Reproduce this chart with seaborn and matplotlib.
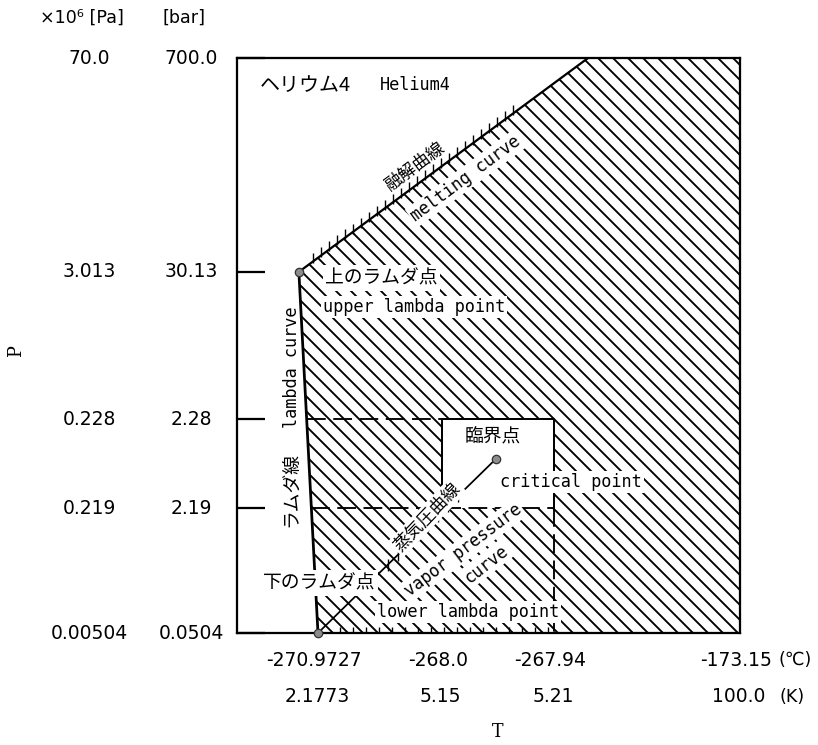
#!/usr/bin/env python3

""" Helium-4 phase diagram (schematic), redrawn with seaborn
"""

import numpy as np
import pandas as pd
import seaborn as sns
import matplotlib.pyplot as plt
from matplotlib.collections import LineCollection

#########################################################
### Values ###
#########################################################

# Temperature labels along the bottom
t_celsius = ["-270.9727", "-268.0", "-267.94", "-173.15"]
t_kelvin = ["2.1773", "5.15", "5.21", "100.0"]

# Pressure labels on the left
p_bar = ["0.0504", "2.19", "2.28", "30.13", "700.0"]
p_pa = ["0.00504", "0.219", "0.228", "3.013", "70.0"]

# The axes are not to scale: schematic position (0..1) of each label
t_pos = [0.161, 0.407, 0.630, 1.0]
p_pos = [0.0, 0.217, 0.372, 0.628, 1.0]

# Phase boundaries in the same schematic coordinates
lambda_T = [0.161, 0.123]
lambda_P = [0.0, 0.628]
melting_T = [0.123, 0.698]
melting_P = [0.628, 1.0]
vapor_T = [0.161, 0.515]
vapor_P = [0.0, 0.303]

point_names = ["lower lambda point", "upper lambda point", "critical point"]
point_T = [0.161, 0.123, 0.515]
point_P = [0.0, 0.628, 0.303]

lambda_curve = pd.DataFrame({"T": lambda_T, "P": lambda_P})
melting_curve = pd.DataFrame({"T": melting_T, "P": melting_P})
vapor_curve = pd.DataFrame({"T": vapor_T, "P": vapor_P})
points = pd.DataFrame({"name": point_names, "T": point_T, "P": point_P})

#########################################################
### Style ###
#########################################################

sns.set_style("white")
plt.rcParams["font.family"] = ["Noto Sans CJK JP", "DejaVu Sans"]
plt.rcParams["text.color"] = "black"
plt.rcParams["hatch.linewidth"] = 1.5
plt.rcParams["hatch.color"] = "black"

num_font = ["Liberation Sans Narrow", "DejaVu Sans"]
mono_font = ["DejaVu Sans Mono", "Noto Sans CJK JP"]
jp_font = ["Noto Sans CJK JP", "DejaVu Sans"]
white_box = dict(boxstyle="square,pad=0.12", fc="white", ec="none")

DPI = 90
fig = plt.figure(figsize=(818 / DPI, 745 / DPI), dpi=DPI, facecolor="white")
ax = fig.add_axes([237 / 818, 112 / 745, 503 / 818, 575 / 745])

# one pixel in axes units
px = 1 / 503
py = 1 / 575

#########################################################
### Regions ###
#########################################################

# Hatched area: right of the lambda curve, below the melting curve
region_T = lambda_T + [melting_T[-1], 1.0, 1.0]
region_P = lambda_P + [1.0, 1.0, 0.0]
ax.fill(region_T, region_P, facecolor="white", edgecolor="black",
        hatch="\\\\", linewidth=0, zorder=1)

# White window around the critical point
ax.fill_between(t_pos[1:3], p_pos[1], p_pos[2], color="white", linewidth=0, zorder=1.5)
ax.plot([t_pos[1], t_pos[1], t_pos[2], t_pos[2]],
        [p_pos[1], p_pos[2], p_pos[2], p_pos[1]],
        color="black", lw=1.6, zorder=2)
ax.plot([t_pos[2], t_pos[2]], [p_pos[1], p_pos[0]],
        color="black", lw=1.5, dashes=(10, 4), zorder=2)

# Dashed guides at 2.28 and 2.19 bar, starting on the lambda curve
for p_level, t_end in [(p_pos[2], t_pos[1]), (p_pos[1], t_pos[2])]:
    t_start = np.interp(p_level, lambda_P, lambda_T)
    ax.plot([t_start, t_end], [p_level, p_level],
            color="black", lw=1.5, dashes=(10, 4), zorder=2)

#########################################################
### Curves and points ###
#########################################################

sns.lineplot(data=lambda_curve, x="T", y="P", sort=False, estimator=None,
             color="black", lw=2.2, ax=ax, zorder=3)
sns.lineplot(data=melting_curve, x="T", y="P", sort=False, estimator=None,
             color="black", lw=1.8, ax=ax, zorder=3)
sns.lineplot(data=vapor_curve, x="T", y="P", sort=False, estimator=None,
             color="black", lw=1.4, ax=ax, zorder=3)

# Little ticks along the melting curve, the vapour curve and the bottom edge
mx = np.arange(0.152, 0.55, 8 * px)
my = np.interp(mx, melting_T, melting_P)
vx = np.arange(0.30, 0.445, 10 * px)
vy = np.interp(vx, vapor_T, vapor_P)
bx = np.arange(0.205, 0.64, 13 * px)
segs = [[(x, y - 2 * py), (x, y + 8 * py)] for x, y in zip(mx, my)]
segs += [[(x, y - 6 * py), (x, y + 6 * py)] for x, y in zip(vx, vy)]
segs += [[(x, 0), (x, 6 * py)] for x in bx]
ax.add_collection(LineCollection(segs, colors="black", linewidths=1.1, zorder=3))

sns.scatterplot(data=points, x="T", y="P", s=45, color="#8c8c8c",
                edgecolor="#333333", linewidth=1, zorder=6, ax=ax, clip_on=False)

#########################################################
### Axes frame and ticks ###
#########################################################

ax.set_xlim(0, 1)
ax.set_ylim(0, 1)
ax.set_xlabel("")
ax.set_ylabel("")
ax.set_xticks([])
ax.set_yticks(p_pos)
ax.tick_params(axis="y", direction="in", length=22, width=1.8,
               left=True, labelleft=False, color="black")
for side in ax.spines.values():
    side.set_color("black")
    side.set_linewidth(1.8)

# Pressure columns
for y, pa, bar in zip(p_pos, p_pa, p_bar):
    ax.text(-0.294, y, pa, ha="center", va="center", fontsize=15,
            family=num_font, transform=ax.transAxes)
    ax.text(-0.091, y, bar, ha="center", va="center", fontsize=15,
            family=num_font, transform=ax.transAxes)
ax.text(-0.308, 1.070, "×10⁶ [Pa]", ha="center", va="center", fontsize=14,
        family=num_font, transform=ax.transAxes)
ax.text(-0.105, 1.070, "[bar]", ha="center", va="center", fontsize=14,
        family=num_font, transform=ax.transAxes)
ax.text(-0.439, 0.492, "P", ha="center", va="center", fontsize=14, rotation=90,
        family=["DejaVu Serif"], transform=ax.transAxes)

# Temperature rows
for x, c, k in zip(t_pos, t_celsius, t_kelvin):
    ax.text(x - 0.008, -0.047, c, ha="center", va="center", fontsize=15,
            family=num_font, transform=ax.transAxes)
    ax.text(x - 0.002, -0.111, k, ha="center", va="center", fontsize=15,
            family=num_font, transform=ax.transAxes)
ax.text(1.109, -0.047, "(℃)", ha="center", va="center", fontsize=14,
        family=num_font, transform=ax.transAxes)
ax.text(1.104, -0.111, "(K)", ha="center", va="center", fontsize=14,
        family=num_font, transform=ax.transAxes)
ax.text(0.519, -0.172, "T", ha="center", va="center", fontsize=14,
        family=["DejaVu Serif"], transform=ax.transAxes)

#########################################################
### Labels inside the diagram ###
#########################################################

ax.text(0.046, 0.953, "ヘリウム4", ha="left", va="center", fontsize=16, family=jp_font)
ax.text(0.284, 0.953, "Helium4", ha="left", va="center", fontsize=13.5, family=mono_font)

melt_angle = np.degrees(np.arctan2(melting_P[1] - melting_P[0], melting_T[1] - melting_T[0]))
ax.text(0.354, 0.812, "融解曲線", ha="center", va="center", fontsize=14, family=jp_font,
        rotation=melt_angle, rotation_mode="anchor", transform_rotates_text=True)
ax.text(0.455, 0.791, "melting curve", ha="center", va="center", fontsize=13.5,
        family=mono_font, rotation=melt_angle, rotation_mode="anchor",
        transform_rotates_text=True, bbox=white_box, zorder=4)

ax.text(0.175, 0.617, "上のラムダ点", ha="left", va="center", fontsize=15,
        family=jp_font, bbox=white_box, zorder=4)
ax.text(0.171, 0.567, "upper lambda point", ha="left", va="center", fontsize=13.5,
        family=mono_font, bbox=white_box, zorder=4)

ax.text(0.109, 0.463, "lambda curve", ha="center", va="center", fontsize=13.5,
        family=mono_font, rotation=90)
ax.text(0.109, 0.249, "ラムダ線", ha="center", va="center", fontsize=15,
        family=jp_font, rotation=90)

ax.text(0.509, 0.341, "臨界点", ha="center", va="center", fontsize=15, family=jp_font)
ax.text(0.523, 0.263, "critical point", ha="left", va="center", fontsize=13.5,
        family=mono_font, bbox=white_box, zorder=4)

ax.text(0.378, 0.202, "蒸気圧曲線", ha="center", va="center", fontsize=14,
        family=jp_font, rotation=46, bbox=white_box, zorder=4)
ax.text(0.449, 0.144, "vapor pressure", ha="center", va="center", fontsize=13.5,
        family=mono_font, rotation=37, bbox=white_box, zorder=4)
ax.text(0.495, 0.120, "curve", ha="center", va="center", fontsize=13.5,
        family=mono_font, rotation=38, bbox=white_box, zorder=4)

ax.text(0.052, 0.087, "下のラムダ点", ha="left", va="center", fontsize=15,
        family=jp_font, bbox=white_box, zorder=4)
ax.text(0.278, 0.037, "lower lambda point", ha="left", va="center", fontsize=13.5,
        family=mono_font, bbox=white_box, zorder=4)

# Save the figure
fig.savefig("out.png", dpi=DPI, facecolor="white")
